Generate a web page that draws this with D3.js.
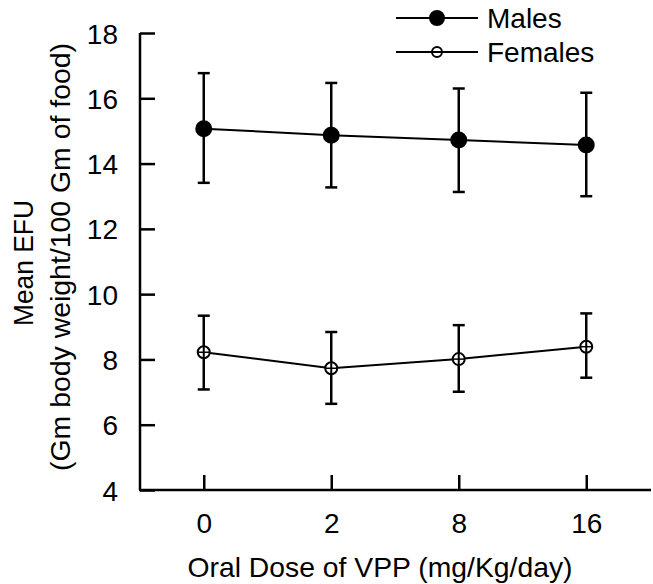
<!DOCTYPE html>
<html>
<head>
<meta charset="utf-8">
<script src="https://cdn.jsdelivr.net/npm/d3@7"></script>
<style>
  body { margin: 0; background: #fff; }
  text { font-family: "Liberation Sans", Arial, sans-serif; fill: #000; }
</style>
</head>
<body>
<div id="chart"></div>
<script>
// chart values
const doses = ["0", "2", "8", "16"];
const yTicks = [4, 6, 8, 10, 12, 14, 16, 18];

const malesMean = [15.07, 14.87, 14.72, 14.57];
const malesHigh = [16.77, 16.47, 16.30, 16.17];
const malesLow  = [13.41, 13.27, 13.13, 13.00];

const femalesMean = [8.22, 7.73, 8.01, 8.39];
const femalesHigh = [9.34, 8.84, 9.05, 9.41];
const femalesLow  = [7.08, 6.64, 7.01, 7.44];

const seriesNames = ["Males", "Females"];

const W = 653, H = 584;
const fontSize = 28;

const svg = d3.select("#chart").append("svg")
    .attr("width", W)
    .attr("height", H);

// scales
const x = d3.scalePoint().domain(doses).range([140, 650]).padding(0.5);
const y = d3.scaleLinear().domain([4, 18]).range([490, 33]);

// build series from arrays
const series = [
    {name: seriesNames[0], filled: true,  r: 7.5,
     pts: doses.map((d, i) => ({dose: d, m: malesMean[i], hi: malesHigh[i], lo: malesLow[i]}))},
    {name: seriesNames[1], filled: false, r: 6,
     pts: doses.map((d, i) => ({dose: d, m: femalesMean[i], hi: femalesHigh[i], lo: femalesLow[i]}))}
];

// y axis (ticks inward)
const yAxis = svg.append("g")
    .attr("transform", "translate(140,0)")
    .call(d3.axisRight(y).tickValues(yTicks).tickSize(15).tickFormat(d3.format("d")));
yAxis.select(".domain").attr("d", "M0," + y(18) + "V" + y(4)).attr("stroke-width", 2.5);
yAxis.selectAll(".tick line").attr("stroke-width", 2.5);
yAxis.selectAll(".tick text")
    .attr("x", -22)
    .attr("dy", "0.36em")
    .attr("text-anchor", "end")
    .style("font-size", fontSize + "px");

// x axis (ticks inward)
const xAxis = svg.append("g")
    .attr("transform", "translate(0,490)")
    .call(d3.axisTop(x).tickSize(15));
xAxis.select(".domain").attr("d", "M139,0H651").attr("stroke-width", 2.5);
xAxis.selectAll(".tick line").attr("stroke-width", 2.5);
xAxis.selectAll(".tick text")
    .attr("y", 43)
    .attr("dy", 0)
    .attr("text-anchor", "middle")
    .style("font-size", fontSize + "px");

svg.selectAll(".domain, .tick line").attr("stroke", "#000");

// axis titles
svg.append("text")
    .attr("x", 380).attr("y", 577)
    .attr("text-anchor", "middle")
    .attr("textLength", 385)
    .attr("lengthAdjust", "spacingAndGlyphs")
    .style("font-size", fontSize + "px")
    .text("Oral Dose of VPP (mg/Kg/day)");

svg.append("text")
    .attr("transform", "translate(33,263) rotate(-90)")
    .attr("text-anchor", "middle")
    .attr("textLength", 126)
    .attr("lengthAdjust", "spacingAndGlyphs")
    .style("font-size", fontSize + "px")
    .text("Mean EFU");

svg.append("text")
    .attr("transform", "translate(70,257) rotate(-90)")
    .attr("text-anchor", "middle")
    .attr("textLength", 428)
    .attr("lengthAdjust", "spacingAndGlyphs")
    .style("font-size", fontSize + "px")
    .text("(Gm body weight/100 Gm of food)");

// series
const line = d3.line().x(d => x(d.dose)).y(d => y(d.m));

const g = svg.selectAll("g.series")
    .data(series)
    .enter().append("g")
    .attr("class", "series");

g.append("path")
    .attr("d", d => line(d.pts))
    .attr("fill", "none")
    .attr("stroke", "#000")
    .attr("stroke-width", 2);

// error bars
const eb = g.selectAll("g.err")
    .data(d => d.pts)
    .enter().append("g")
    .attr("class", "err")
    .attr("stroke", "#000")
    .attr("stroke-width", 2.5);
eb.append("line")
    .attr("x1", d => x(d.dose)).attr("x2", d => x(d.dose))
    .attr("y1", d => y(d.hi)).attr("y2", d => y(d.lo));
eb.append("line")
    .attr("x1", d => x(d.dose) - 6).attr("x2", d => x(d.dose) + 6)
    .attr("y1", d => y(d.hi)).attr("y2", d => y(d.hi));
eb.append("line")
    .attr("x1", d => x(d.dose) - 6).attr("x2", d => x(d.dose) + 6)
    .attr("y1", d => y(d.lo)).attr("y2", d => y(d.lo));

// markers
g.each(function (s) {
    const sel = d3.select(this);
    sel.selectAll("circle")
        .data(s.pts)
        .enter().append("circle")
        .attr("cx", d => x(d.dose))
        .attr("cy", d => y(d.m))
        .attr("r", s.r)
        .attr("fill", s.filled ? "#000" : "#fff")
        .attr("stroke", "#000")
        .attr("stroke-width", 2);
    // open circles keep the bar and the line visible through them
    if (!s.filled) {
        sel.selectAll("line.vcross")
            .data(s.pts)
            .enter().append("line")
            .attr("class", "vcross")
            .attr("x1", d => x(d.dose)).attr("x2", d => x(d.dose))
            .attr("y1", d => y(d.m) - s.r).attr("y2", d => y(d.m) + s.r)
            .attr("stroke", "#000").attr("stroke-width", 2);
        sel.selectAll("line.hcross")
            .data(s.pts)
            .enter().append("line")
            .attr("class", "hcross")
            .attr("x1", d => x(d.dose) - s.r).attr("x2", d => x(d.dose) + s.r)
            .attr("y1", d => y(d.m)).attr("y2", d => y(d.m))
            .attr("stroke", "#000").attr("stroke-width", 1.5);
    }
});

// legend
const legend = svg.append("g").attr("class", "legend");
const legRows = legend.selectAll("g")
    .data(series)
    .enter().append("g")
    .attr("transform", (d, i) => "translate(0," + (18 + i * 34) + ")");
legRows.append("circle")
    .attr("cx", 437)
    .attr("r", d => d.filled ? 7 : 5)
    .attr("fill", d => d.filled ? "#000" : "#fff")
    .attr("stroke", "#000").attr("stroke-width", 2);
legRows.append("line")
    .attr("x1", 396).attr("x2", 478)
    .attr("stroke", "#000").attr("stroke-width", 2);
legRows.append("text")
    .attr("x", 487)
    .attr("dy", "0.36em")
    .style("font-size", fontSize + "px")
    .text(d => d.name);
</script>
</body>
</html>
